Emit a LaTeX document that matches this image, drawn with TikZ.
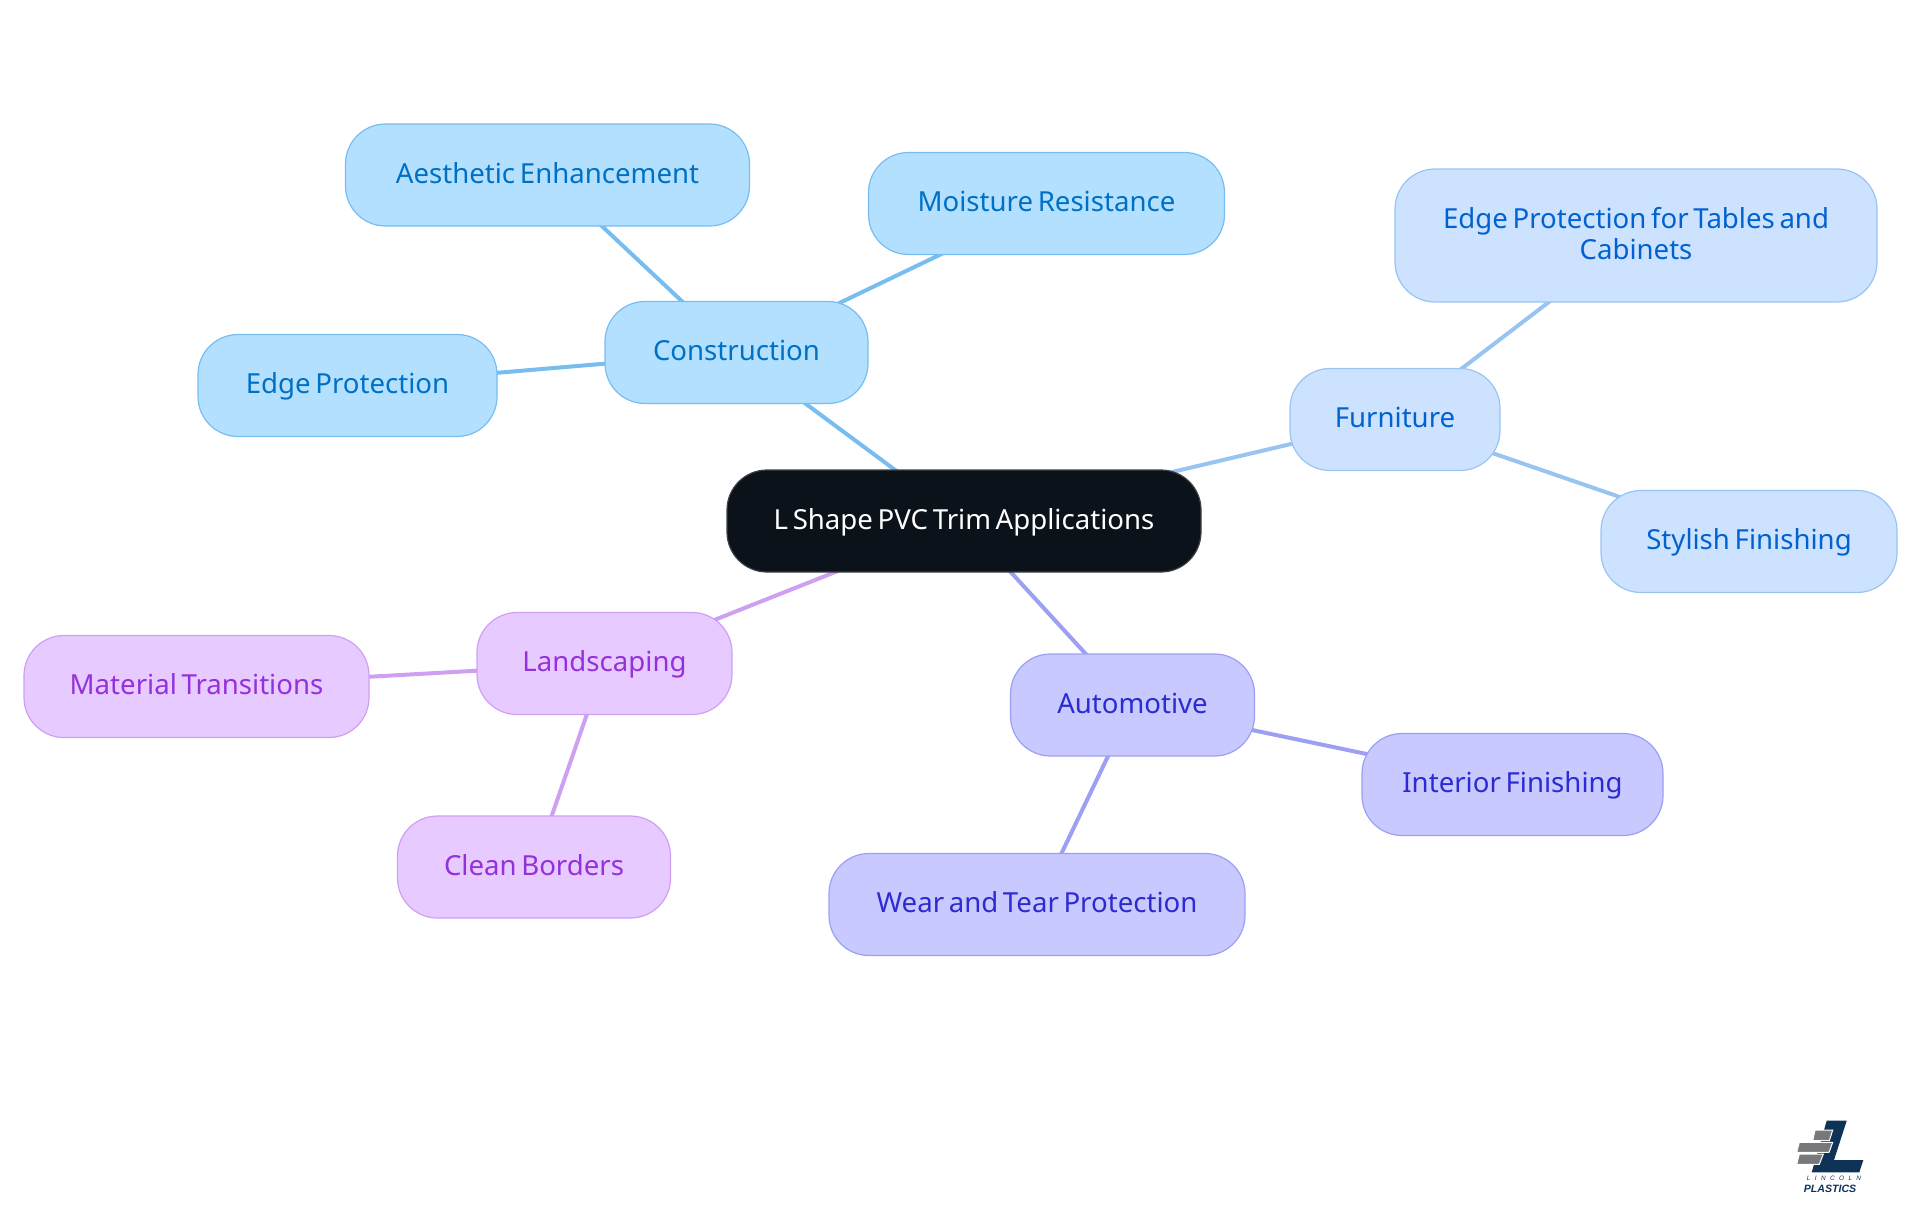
\documentclass[tikz,border=0pt]{standalone}
\usepackage{fontspec}
\setmainfont{Noto Sans}[WordSpace=0.65]
\newfontfamily\logofont{Liberation Sans}
\usetikzlibrary{backgrounds}
\definecolor{cfill}{HTML}{B3E0FF}\definecolor{cline}{HTML}{77BDF0}\definecolor{ctext}{HTML}{0070C4}
\definecolor{ffill}{HTML}{CCE2FF}\definecolor{fline}{HTML}{99C4F2}\definecolor{ftext}{HTML}{0062D1}
\definecolor{afill}{HTML}{C7C9FF}\definecolor{aline}{HTML}{9C9FF2}\definecolor{atext}{HTML}{2C2AD0}
\definecolor{lfill}{HTML}{E7CAFF}\definecolor{lline}{HTML}{CFA0F2}\definecolor{ltext}{HTML}{9430DC}
\definecolor{rootfill}{HTML}{0C121A}\definecolor{logoblue}{HTML}{0F3357}\definecolor{logogrey}{HTML}{77787B}
\tikzset{
  x=0.5pt,y=-0.5pt,
  pill/.style={rectangle,rounded corners=20pt,line width=0.6pt,inner sep=0pt,align=center,
    font=\fontsize{13.8}{15.5}\selectfont,text height=10pt,text depth=2pt},
  cbox/.style={pill,fill=cfill,draw=cline,text=ctext},
  fbox/.style={pill,fill=ffill,draw=fline,text=ftext},
  abox/.style={pill,fill=afill,draw=aline,text=atext},
  lbox/.style={pill,fill=lfill,draw=lline,text=ltext},
  rootbox/.style={pill,fill=rootfill,draw=rootfill!80!white,text=white},
  cedge/.style={draw=cline,line width=2pt},
  fedge/.style={draw=fline,line width=2pt},
  aedge/.style={draw=aline,line width=2pt},
  ledge/.style={draw=lline,line width=2pt},
  brick/.style={fill=logogrey,draw=white,line width=0.5pt},
}
\begin{document}
\begin{tikzpicture}
\useasboundingbox (0,0) rectangle (1920,1215);
\node[rootbox,minimum width=237pt,minimum height=51pt] (root) at (964,521) {L Shape PVC Trim Applications};
\node[cbox,minimum width=131.5pt,minimum height=51pt] (con) at (736.5,352.5) {Construction};
\node[cbox,minimum width=202pt,minimum height=51pt] (aes) at (547.5,175) {Aesthetic Enhancement};
\node[cbox,minimum width=178pt,minimum height=51pt] (moi) at (1046.5,203.5) {Moisture Resistance};
\node[cbox,minimum width=149.5pt,minimum height=51pt] (edg) at (347.5,385.5) {Edge Protection};
\node[fbox,minimum width=105pt,minimum height=51pt] (fur) at (1395,419.5) {Furniture};
\node[fbox,minimum width=241pt,minimum height=66.5pt,text height=26pt] (tab) at (1636,235.5) {Edge Protection for Tables and\\Cabinets};
\node[fbox,minimum width=148pt,minimum height=51pt] (sty) at (1749,541.5) {Stylish Finishing};
\node[abox,minimum width=122pt,minimum height=51pt] (aut) at (1132.5,705) {Automotive};
\node[abox,minimum width=150.5pt,minimum height=51pt] (int) at (1512.5,784.5) {Interior Finishing};
\node[abox,minimum width=208pt,minimum height=51pt] (wea) at (1037,904.5) {Wear and Tear Protection};
\node[lbox,minimum width=127.5pt,minimum height=51pt] (lan) at (604.5,663.5) {Landscaping};
\node[lbox,minimum width=172.5pt,minimum height=51pt] (mat) at (196.5,686.5) {Material Transitions};
\node[lbox,minimum width=136.5pt,minimum height=51pt] (cle) at (534,867) {Clean Borders};
\begin{scope}[on background layer]
\draw[cedge] (root.center) -- (con.center);
\draw[cedge] (con.center) -- (aes.center);
\draw[cedge] (con.center) -- (moi.center);
\draw[cedge] (con.center) -- (edg.center);
\draw[fedge] (root.center) -- (fur.center);
\draw[fedge] (fur.center) -- (tab.center);
\draw[fedge] (fur.center) -- (sty.center);
\draw[aedge] (root.center) -- (aut.center);
\draw[aedge] (aut.center) -- (int.center);
\draw[aedge] (aut.center) -- (wea.center);
\draw[ledge] (root.center) -- (lan.center);
\draw[ledge] (lan.center) -- (mat.center);
\draw[ledge] (lan.center) -- (cle.center);
\end{scope}
% logo
\fill[logoblue] (1826.7,1120.7) -- (1846.7,1120.7) -- (1834,1160) -- (1863.3,1160) -- (1859.3,1172.3) -- (1811.7,1172.3) -- cycle;
\filldraw[brick] (1815,1130) -- (1832.7,1130) -- (1829.3,1140.7) -- (1812.7,1140.7) -- cycle;
\filldraw[brick] (1799.3,1142.3) -- (1832.7,1142.3) -- (1829,1152.3) -- (1796.7,1152.3) -- cycle;
\filldraw[brick] (1799.3,1154) -- (1823.3,1154) -- (1819.3,1164.3) -- (1796.7,1164.3) -- cycle;
\node[inner sep=0pt,text=logoblue,font=\logofont\fontsize{3.2}{4}\selectfont\itshape] (logoa) at (1834,1178.5) {L\hspace{2.2pt}I\hspace{2.2pt}N\hspace{2.2pt}C\hspace{2.2pt}O\hspace{2.2pt}L\hspace{2.2pt}N};
\node[inner sep=0pt,text=logoblue,font=\logofont\fontsize{5.3}{6}\selectfont\bfseries\itshape] (logob) at (1830,1188.5) {PLASTICS};
\end{tikzpicture}
\end{document}
